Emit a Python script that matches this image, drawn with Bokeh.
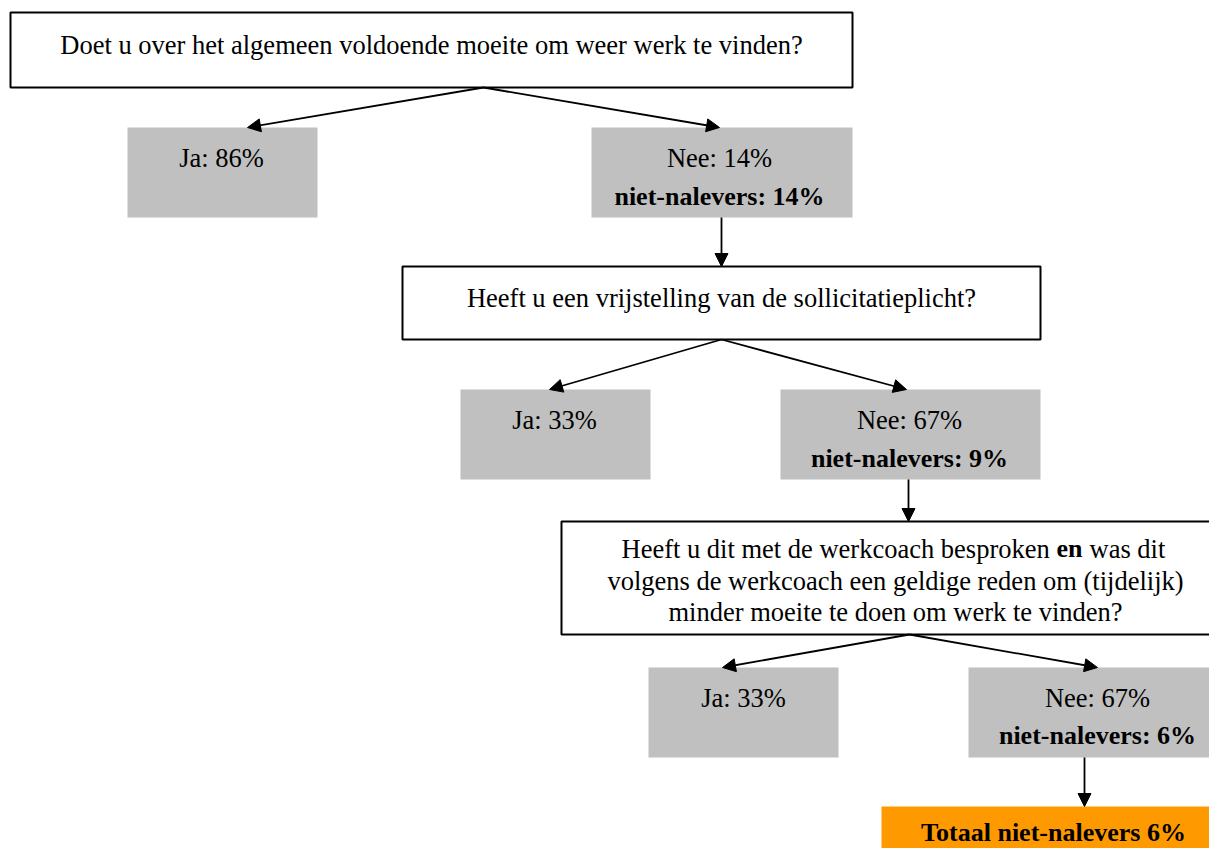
from bokeh.plotting import figure
from bokeh.models import Range1d, Arrow, NormalHead, ColumnDataSource
from bokeh.core.properties import value
from bokeh.embed import file_html
from bokeh.resources import INLINE

# ---------------- data ----------------
questions = [
    "Doet u over het algemeen voldoende moeite om weer werk te vinden?",
    "Heeft u een vrijstelling van de sollicitatieplicht?",
]
q3_first_line = ["Heeft u dit met de werkcoach besproken", "en", "was dit"]
q3_other_lines = [
    "volgens de werkcoach een geldige reden om (tijdelijk)",
    "minder moeite te doen om werk te vinden?",
]
ja_pct = [86, 33, 33]
nee_pct = [14, 67, 67]
niet_nalevers_pct = [14, 9, 6]
totaal_pct = 6

# ---------------- layout (pixel coordinates) ----------------
FONT = "Liberation Serif"
FS = "26.5px"
FSB = "26px"
GREY = "#C0C0C0"
ORANGE = "#FF9900"
DY = -9  # baseline correction for svg text rendering

q_boxes = [(10, 852, 12, 87), (402, 1040, 266, 339), (561, 1232, 521, 634)]
ja_boxes = [(127, 317, 127, 217), (460, 650, 389, 479), (648, 838, 667, 757)]
nee_boxes = [(591, 852, 127, 217), (780, 1040, 389, 479), (968, 1232, 667, 757)]
tot_box = (881, 1232, 806, 870)

q_text_pos = [(431, 53 + DY), (721, 306 + DY)]
q3_line_x = [621, 1056, 1089]
q3_base = [557 + DY, 589 + DY, 620 + DY]
q3_center = 895
ja_text_pos = [(221, 166 + DY), (554, 428 + DY), (743, 706 + DY)]
nee_text_pos = [(719, 166 + DY, 205 + DY), (909, 428 + DY, 467 + DY), (1097, 706 + DY, 744 + DY)]
tot_text_pos = (1053, 832)

arrows = [
    ((483, 87), (247, 127)), ((483, 87), (719, 127)), ((721, 217), (721, 266)),
    ((721, 339), (549, 389)), ((721, 339), (906, 389)), ((908, 479), (908, 521)),
    ((909, 634), (722, 667)), ((909, 634), (1097, 667)), ((1084, 757), (1084, 806)),
]

p = figure(width=1209, height=848, x_range=Range1d(0, 1209), y_range=Range1d(848, 0),
           output_backend="svg", toolbar_location=None, x_axis_type=None, y_axis_type=None,
           min_border=0, min_border_left=0, min_border_right=0, min_border_top=0,
           min_border_bottom=0, outline_line_color=None, background_fill_color="white")
p.xgrid.visible = False
p.ygrid.visible = False


def boxes(lst, fill, line_color, lw):
    src = ColumnDataSource(dict(left=[b[0] for b in lst], right=[b[1] for b in lst],
                                top=[b[2] for b in lst], bottom=[b[3] for b in lst]))
    p.quad(left="left", right="right", top="top", bottom="bottom", source=src,
           fill_color=fill, line_color=line_color, line_width=lw)


boxes(q_boxes, "white", "black", 2)
boxes(ja_boxes + nee_boxes, GREY, None, 0)
boxes([tot_box], ORANGE, None, 0)


def txt(xs, ys, texts, bold=False, align="center"):
    p.text(x=xs, y=ys, text=texts, text_font=value(FONT),
           text_font_size=value(FSB if bold else FS),
           text_font_style="bold" if bold else "normal",
           text_align=align, text_baseline="alphabetic", text_color="black")


# questions
txt([q_text_pos[i][0] for i in range(2)], [q_text_pos[i][1] for i in range(2)], questions)
txt([q3_line_x[0]], [q3_base[0]], [q3_first_line[0]], align="left")
txt([q3_line_x[1]], [q3_base[0]], [q3_first_line[1]], bold=True, align="left")
txt([q3_line_x[2]], [q3_base[0]], [q3_first_line[2]], align="left")
txt([q3_center, q3_center], q3_base[1:], q3_other_lines)

# answers
txt([t[0] for t in ja_text_pos], [t[1] for t in ja_text_pos], [f"Ja: {v}%" for v in ja_pct])
txt([t[0] for t in nee_text_pos], [t[1] for t in nee_text_pos], [f"Nee: {v}%" for v in nee_pct])
txt([t[0] for t in nee_text_pos], [t[2] for t in nee_text_pos],
    [f"niet-nalevers: {v}%" for v in niet_nalevers_pct], bold=True)
txt([tot_text_pos[0]], [tot_text_pos[1]], [f"Totaal niet-nalevers {totaal_pct}%"], bold=True)

# arrows
for (x0, y0), (x1, y1) in arrows:
    p.add_layout(Arrow(end=NormalHead(size=13, fill_color="black", line_color="black", line_width=1),
                       x_start=x0, y_start=y0, x_end=x1, y_end=y1,
                       line_color="black", line_width=1.8))

open("out.html", "w").write(file_html(p, INLINE))
